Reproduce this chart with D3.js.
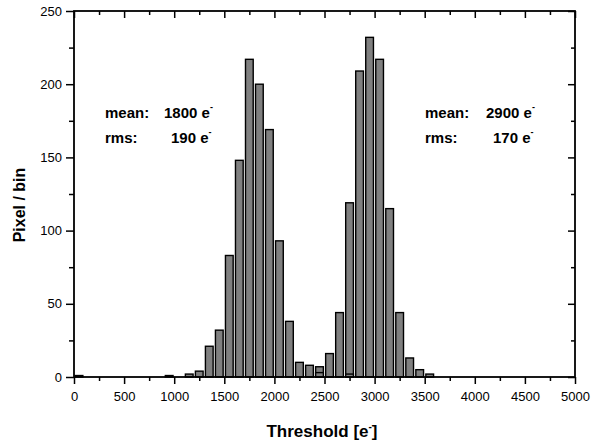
<!DOCTYPE html>
<html><head><meta charset="utf-8">
<script src="https://cdn.jsdelivr.net/npm/d3@7"></script>
<style>
html,body{margin:0;padding:0;background:#fff;}
svg{display:block;font-family:"Liberation Sans",Arial,sans-serif;}
</style></head>
<body>
<svg id="c" width="592" height="447"></svg>
<script>
// Data
const binWidth = 100;
const lowCenters  = [50, 950, 1150, 1250, 1350, 1450, 1550, 1650, 1750, 1850, 1950, 2050, 2150, 2250, 2350, 2450, 2750];
const lowCounts   = [1, 1, 2, 4, 21, 32, 83, 148, 217, 200, 169, 93, 38, 10, 8, 3, 2];
const highCenters = [2450, 2550, 2650, 2750, 2850, 2950, 3050, 3150, 3250, 3350, 3450, 3550];
const highCounts  = [7, 16, 44, 119, 209, 232, 217, 115, 44, 13, 5, 2];
const xTicks = [0, 500, 1000, 1500, 2000, 2500, 3000, 3500, 4000, 4500, 5000];
const xTickLabels = ["0", "500", "1000", "1500", "2000", "2500", "3000", "3500", "4000", "4500", "5000"];
const yTicks = [0, 50, 100, 150, 200, 250];
const annLow  = {mean: "1800", rms: "190"};
const annHigh = {mean: "2900", rms: "170"};

const svg = d3.select("#c");
const L = 74, R = 575, T = 11, B = 377;
const x = d3.scaleLinear().domain([0, 5000]).range([L, R]);
const y = d3.scaleLinear().domain([0, 250]).range([B, T]);

const halfBar = binWidth * 0.385;
function drawBars(centers, counts) {
  svg.append("g").selectAll("rect").data(centers.map((c, i) => ({c, v: counts[i]})))
    .join("rect")
    .attr("x", d => x(d.c - halfBar))
    .attr("width", d => x(d.c + halfBar) - x(d.c - halfBar))
    .attr("y", d => y(d.v))
    .attr("height", d => y(0) - y(d.v))
    .attr("fill", "#808080")
    .attr("stroke", "#000")
    .attr("stroke-width", 1.4);
}
drawBars(highCenters, highCounts);
drawBars(lowCenters, lowCounts);

// Axes
const xMinor = d3.range(250, 5000, 500);
const yMinor = d3.range(25, 250, 50);

function styleAxis(g) {
  g.select(".domain").remove();
  g.selectAll("line").attr("stroke", "#000").attr("stroke-width", 1.5);
  g.selectAll("text").attr("fill", "#000");
}

// bottom
const gb = svg.append("g").attr("transform", `translate(0,${B})`)
  .call(d3.axisBottom(x).tickValues(xTicks).tickFormat((d, i) => xTickLabels[i]).tickSize(7).tickPadding(8));
styleAxis(gb);
gb.selectAll("text").attr("font-size", 13).attr("font-family", "Liberation Sans, Arial, sans-serif");
svg.append("g").attr("transform", `translate(0,${B})`)
  .call(d3.axisBottom(x).tickValues(xMinor).tickFormat("").tickSize(4)).call(styleAxis);

// top
svg.append("g").attr("transform", `translate(0,${T})`)
  .call(d3.axisBottom(x).tickValues(xTicks).tickFormat("").tickSize(7)).call(styleAxis);
svg.append("g").attr("transform", `translate(0,${T})`)
  .call(d3.axisBottom(x).tickValues(xMinor).tickFormat("").tickSize(4)).call(styleAxis);

// left
const gl = svg.append("g").attr("transform", `translate(${L},0)`)
  .call(d3.axisLeft(y).tickValues(yTicks).tickFormat(d3.format("d")).tickSize(8).tickPadding(4));
styleAxis(gl);
gl.selectAll("text").attr("font-size", 13).attr("font-family", "Liberation Sans, Arial, sans-serif");
svg.append("g").attr("transform", `translate(${L},0)`)
  .call(d3.axisLeft(y).tickValues(yMinor).tickFormat("").tickSize(5)).call(styleAxis);

// right
svg.append("g").attr("transform", `translate(${R},0)`)
  .call(d3.axisLeft(y).tickValues(yTicks).tickFormat("").tickSize(7)).call(styleAxis);
svg.append("g").attr("transform", `translate(${R},0)`)
  .call(d3.axisLeft(y).tickValues(yMinor).tickFormat("").tickSize(4)).call(styleAxis);

// frame
svg.append("rect").attr("x", L).attr("y", T).attr("width", R - L).attr("height", B - T)
  .attr("fill", "none").attr("stroke", "#000").attr("stroke-width", 1.8);

// Axis titles
const xt = svg.append("text").attr("x", 322).attr("y", 437).attr("text-anchor", "middle")
  .attr("font-size", 17).attr("font-weight", "bold");
xt.append("tspan").text("Threshold [e");
xt.append("tspan").attr("dy", -7).attr("font-size", 10).text("-");
xt.append("tspan").attr("dy", 7).text("]");

svg.append("text").attr("transform", "translate(25,205) rotate(-90)")
  .attr("text-anchor", "middle").attr("font-size", 16).attr("font-weight", "bold")
  .text("Pixel / bin");

// Annotations
function ann(xl, xv, yb, label, val) {
  const g = svg.append("g").attr("font-size", 15).attr("font-weight", "bold");
  g.append("text").attr("x", xl).attr("y", yb).text(label);
  const t = g.append("text").attr("x", xv).attr("y", yb);
  t.append("tspan").text(val + " e");
  t.append("tspan").attr("dy", -8).attr("font-size", 9).text("-");
}
ann(105, 164, 118, "mean:", annLow.mean);
ann(105, 171, 143, "rms:", annLow.rms);
ann(425, 486, 118, "mean:", annHigh.mean);
ann(425, 493, 143, "rms:", annHigh.rms);
</script>
</body></html>
